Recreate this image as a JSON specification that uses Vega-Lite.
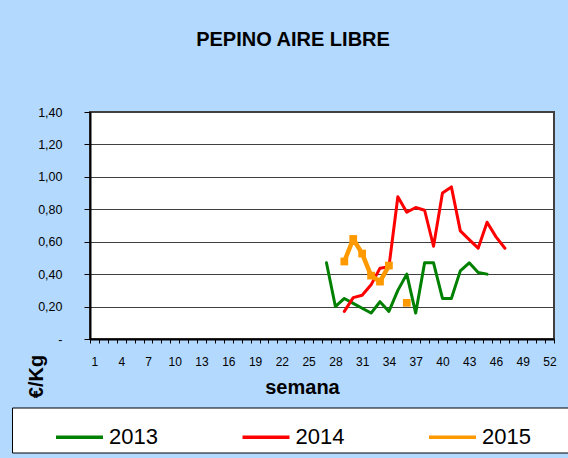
{
  "$schema": "https://vega.github.io/schema/vega-lite/v6.json",
  "width": 464,
  "height": 227,
  "autosize": {"type": "none"},
  "padding": {"left": 90, "top": 112, "right": 14, "bottom": 119},
  "background": "#B3D9FF",
  "config": {
    "view": {"fill": "white", "stroke": "#404040", "strokeWidth": 2},
    "font": "Liberation Sans"
  },
  "title": {
    "text": "PEPINO AIRE LIBRE",
    "font": "Liberation Sans",
    "fontSize": 20,
    "fontWeight": "bold",
    "color": "black",
    "anchor": "middle",
    "frame": "group",
    "dx": -29,
    "offset": 56
  },
  "data": {
    "values": [
      {"year": "2013", "week": 27, "price": 0.47},
      {"year": "2013", "week": 28, "price": 0.20},
      {"year": "2013", "week": 29, "price": 0.25},
      {"year": "2013", "week": 30, "price": 0.22},
      {"year": "2013", "week": 31, "price": 0.19},
      {"year": "2013", "week": 32, "price": 0.16},
      {"year": "2013", "week": 33, "price": 0.23},
      {"year": "2013", "week": 34, "price": 0.17},
      {"year": "2013", "week": 35, "price": 0.30},
      {"year": "2013", "week": 36, "price": 0.40},
      {"year": "2013", "week": 37, "price": 0.16},
      {"year": "2013", "week": 38, "price": 0.47},
      {"year": "2013", "week": 39, "price": 0.47},
      {"year": "2013", "week": 40, "price": 0.25},
      {"year": "2013", "week": 41, "price": 0.25},
      {"year": "2013", "week": 42, "price": 0.42},
      {"year": "2013", "week": 43, "price": 0.47},
      {"year": "2013", "week": 44, "price": 0.41},
      {"year": "2013", "week": 45, "price": 0.40},
      {"year": "2014", "week": 29, "price": 0.17},
      {"year": "2014", "week": 30, "price": 0.255},
      {"year": "2014", "week": 31, "price": 0.27},
      {"year": "2014", "week": 32, "price": 0.334},
      {"year": "2014", "week": 33, "price": 0.437},
      {"year": "2014", "week": 34, "price": 0.445},
      {"year": "2014", "week": 35, "price": 0.877},
      {"year": "2014", "week": 36, "price": 0.782},
      {"year": "2014", "week": 37, "price": 0.811},
      {"year": "2014", "week": 38, "price": 0.794},
      {"year": "2014", "week": 39, "price": 0.572},
      {"year": "2014", "week": 40, "price": 0.901},
      {"year": "2014", "week": 41, "price": 0.938},
      {"year": "2014", "week": 42, "price": 0.667},
      {"year": "2014", "week": 43, "price": 0.613},
      {"year": "2014", "week": 44, "price": 0.56},
      {"year": "2014", "week": 45, "price": 0.72},
      {"year": "2014", "week": 46, "price": 0.63},
      {"year": "2014", "week": 47, "price": 0.56},
      {"year": "2015", "week": 29, "price": 0.478},
      {"year": "2015", "week": 30, "price": 0.617},
      {"year": "2015", "week": 31, "price": 0.527},
      {"year": "2015", "week": 32, "price": 0.391},
      {"year": "2015", "week": 33, "price": 0.354},
      {"year": "2015", "week": 34, "price": 0.453},
      {"year": "2015", "week": 35, "price": null},
      {"year": "2015", "week": 36, "price": 0.223}
    ]
  },
  "encoding": {
    "x": {
      "field": "week",
      "type": "ordinal",
      "scale": {
        "type": "band",
        "domain": [1,2,3,4,5,6,7,8,9,10,11,12,13,14,15,16,17,18,19,20,21,22,23,24,25,26,27,28,29,30,31,32,33,34,35,36,37,38,39,40,41,42,43,44,45,46,47,48,49,50,51,52],
        "paddingInner": 0,
        "paddingOuter": 0
      },
      "axis": {
        "title": "semana",
        "titleFontSize": 20,
        "titleFontWeight": "bold",
        "titleColor": "black",
        "titleX": 212,
        "titleY": 48,
        "titleAlign": "center",
        "titleBaseline": "middle",
        "labelAngle": 0,
        "labelOverlap": false,
        "labelExpr": "(datum.value - 1) % 3 == 0 ? datum.label : ''",
        "labelFontSize": 12,
        "labelColor": "black",
        "labelPadding": 13,
        "tickBand": "extent",
        "tickSize": 4,
        "tickColor": "black",
        "domainColor": "black",
        "domainWidth": 2,
        "grid": false
      }
    },
    "y": {
      "field": "price",
      "type": "quantitative",
      "scale": {"domain": [0, 1.4], "nice": false},
      "axis": {
        "values": [0, 0.2, 0.4, 0.6, 0.8, 1.0, 1.2, 1.4],
        "labelExpr": "datum.value == 0 ? '-' : replace(format(datum.value, '.2f'), '.', ',')",
        "labelFontSize": 12.5,
        "labelColor": "black",
        "labelPadding": 22,
        "tickSize": 6,
        "tickColor": "black",
        "domainColor": "black",
        "domainWidth": 2,
        "grid": true,
        "gridColor": "#404040",
        "gridWidth": 1,
        "gridOpacity": 1,
        "title": "€/Kg",
        "titleFontSize": 20,
        "titleFontWeight": "bold",
        "titleColor": "black",
        "titleAngle": -90,
        "titleX": -54,
        "titleY": 264,
        "titleAlign": "center",
        "titleBaseline": "middle"
      }
    },
    "color": {
      "field": "year",
      "type": "nominal",
      "scale": {"domain": ["2013", "2014", "2015"], "range": ["#008000", "#FF0000", "#FF9900"]},
      "legend": {
        "orient": "none",
        "legendX": -78,
        "legendY": 295.5,
        "direction": "horizontal",
        "title": " ",
        "titleOrient": "left",
        "titleFontSize": 11,
        "titlePadding": 38,
        "fillColor": "white",
        "strokeColor": "black",
        "padding": 4,
        "symbolType": "stroke",
        "symbolSize": 2209,
        "symbolStrokeWidth": 3.5,
        "labelFontSize": 22,
        "labelColor": "black",
        "labelOffset": 4,
        "columnPadding": 77.5,
        "labelLimit": 400,
        "labelExpr": "datum.label == '2015' ? '2015\u00a0\u00a0\u00a0\u00a0\u00a0\u00a0\u200b' : datum.label"
      }
    }
  },
  "layer": [
    {
      "transform": [{"filter": "datum.year != '2015'"}],
      "mark": {"type": "line", "strokeWidth": 3, "strokeCap": "round", "strokeJoin": "round"}
    },
    {
      "transform": [{"filter": "datum.year == '2015'"}],
      "mark": {"type": "line", "strokeWidth": 4.5, "strokeCap": "round", "strokeJoin": "round", "invalid": "break-paths-filter-domains"}
    },
    {
      "transform": [{"filter": "datum.year == '2015' && datum.price != null"}],
      "mark": {"type": "point", "shape": "square", "filled": true, "size": 60, "opacity": 1}
    }
  ]
}
